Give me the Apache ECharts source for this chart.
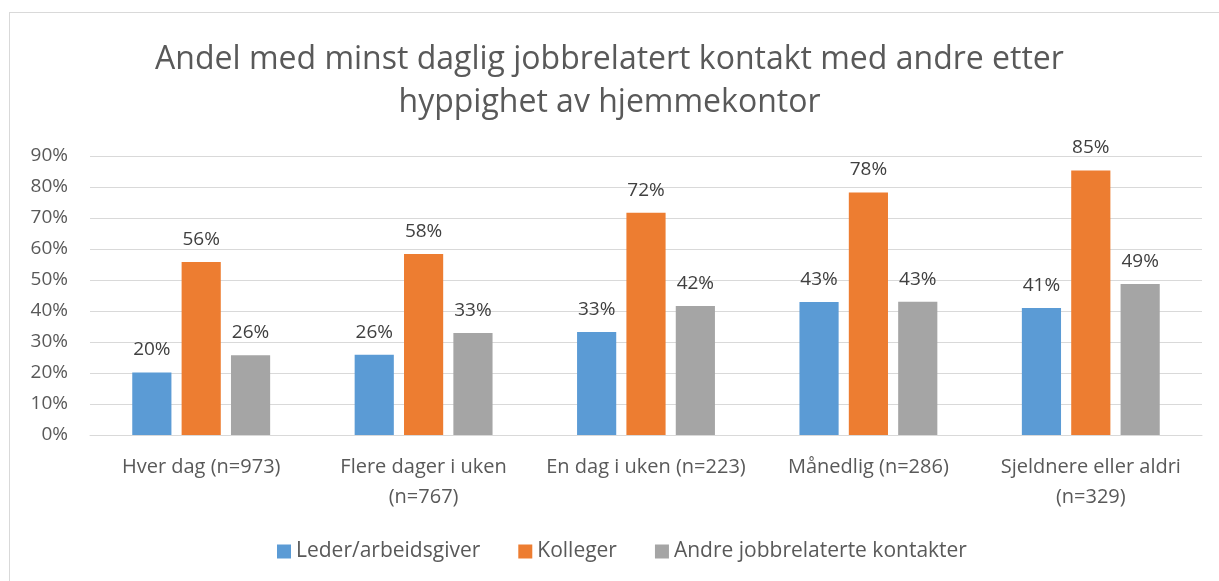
<!DOCTYPE html>
<html>
<head>
<meta charset="utf-8">
<script src="https://cdn.jsdelivr.net/npm/echarts@6/dist/echarts.min.js"></script>
<style>
  html, body { margin: 0; padding: 0; background: #ffffff; }
  #frame {
    position: absolute; left: 9px; top: 12px; width: 1300px; height: 700px;
    border: 1px solid #d9d9d9; box-sizing: border-box;
  }
  #chart { position: absolute; left: 0; top: 0; width: 1219px; height: 581px; }
</style>
</head>
<body>
<div id="frame"></div>
<div id="chart"></div>
<script>
// kategorier og verdier (andel i prosent)
const categories = [
  'Hver dag (n=973)',
  'Flere dager i uken\n(n=767)',
  'En dag i uken (n=223)',
  'Månedlig (n=286)',
  'Sjeldnere eller aldri\n(n=329)'
];
const lederValues = [20.2, 25.9, 33.2, 42.9, 41.0];
const kollegerValues = [55.8, 58.4, 71.7, 78.2, 85.3];
const andreValues = [25.7, 32.9, 41.6, 43.0, 48.7];
const seriesNames = ['Leder/arbeidsgiver', 'Kolleger', 'Andre jobbrelaterte kontakter'];
const colors = ['#5b9bd5', '#ed7d31', '#a5a5a5'];

const fontFamily = '"Open Sans", sans-serif';
const chart = echarts.init(document.getElementById('chart'));

function barSeries(name, data) {
  return {
    name: name,
    type: 'bar',
    data: data,
    barGap: '26%',
    barCategoryGap: '38%',
    label: {
      show: true,
      position: 'top',
      distance: 13,
      color: '#404040',
      fontSize: 19,
      fontFamily: fontFamily,
      formatter: p => Math.round(p.value) + '%'
    }
  };
}

chart.setOption({
  color: colors,
  textStyle: { fontFamily: fontFamily },
  title: {
    text: 'Andel med minst daglig jobbrelatert kontakt med andre etter\nhyppighet av hjemmekontor',
    left: 'center',
    top: 33,
    textStyle: {
      color: '#595959',
      fontSize: 32,
      fontWeight: 'normal',
      fontFamily: fontFamily,
      lineHeight: 43
    }
  },
  legend: {
    top: 536,
    left: 272,
    itemWidth: 14,
    itemHeight: 14,
    itemGap: 38,
    icon: 'rect',
    textStyle: { color: '#595959', fontSize: 21, fontFamily: fontFamily },
    data: seriesNames
  },
  grid: { left: 90, right: 17, top: 156, bottom: 146 },
  xAxis: {
    type: 'category',
    data: categories,
    axisLine: { lineStyle: { color: '#d9d9d9', width: 1 } },
    axisTick: { show: false },
    axisLabel: {
      color: '#595959',
      fontSize: 20,
      fontFamily: fontFamily,
      margin: 17,
      lineHeight: 30,
      interval: 0
    }
  },
  yAxis: {
    type: 'value',
    min: 0,
    max: 90,
    interval: 10,
    axisLine: { show: false },
    axisTick: { show: false },
    splitLine: { lineStyle: { color: '#d9d9d9', width: 1 } },
    axisLabel: {
      color: '#595959',
      fontSize: 19,
      fontFamily: fontFamily,
      margin: 22,
      formatter: '{value}%'
    }
  },
  series: [
    barSeries(seriesNames[0], lederValues),
    barSeries(seriesNames[1], kollegerValues),
    barSeries(seriesNames[2], andreValues)
  ]
});
</script>
</body>
</html>
